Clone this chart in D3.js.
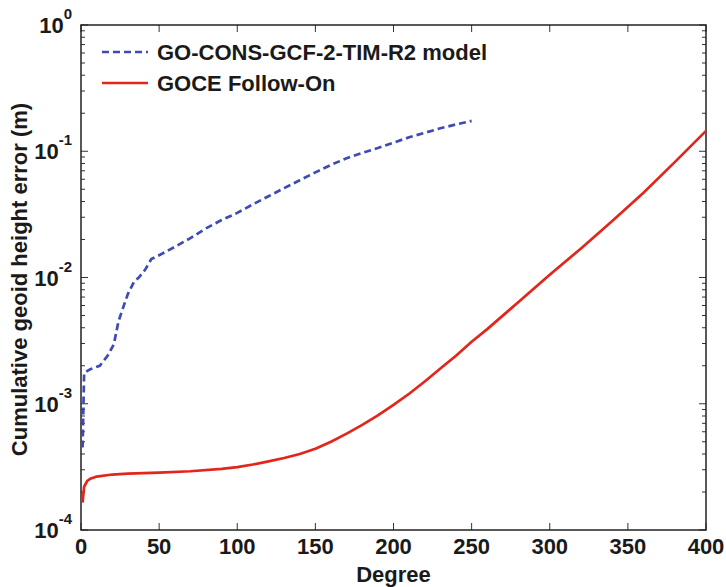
<!DOCTYPE html>
<html>
<head>
<meta charset="utf-8">
<script src="https://cdn.jsdelivr.net/npm/d3@7"></script>
<style>
  body { margin: 0; background: #fff; }
  text { font-family: "Liberation Sans", Arial, sans-serif; font-weight: bold; fill: #1a1a1a; }
</style>
</head>
<body>
<svg id="chart" width="726" height="587"></svg>
<script>
// GO-CONS-GCF-2-TIM-R2 model (dashed blue)
const timDegrees = [1, 2, 6, 12, 17, 21, 24, 27, 30, 34, 37, 41, 45, 50, 59, 70, 80, 90, 100, 110, 120, 130, 140, 150, 160, 170, 180, 190, 200, 210, 220, 230, 240, 250];
const timErrors = [4.5e-4, 1.75e-3, 1.88e-3, 2.0e-3, 2.4e-3, 2.95e-3, 4.5e-3, 5.8e-3, 7.4e-3, 9.3e-3, 1.0e-2, 1.15e-2, 1.4e-2, 1.5e-2, 1.72e-2, 2.05e-2, 2.45e-2, 2.85e-2, 3.25e-2, 3.8e-2, 4.4e-2, 5.1e-2, 5.9e-2, 6.8e-2, 7.8e-2, 8.8e-2, 9.7e-2, 0.106, 0.117, 0.129, 0.14, 0.152, 0.163, 0.174];

// GOCE Follow-On (solid red)
const gfoDegrees = [1, 2, 4, 6, 10, 20, 30, 50, 70, 90, 100, 110, 120, 130, 140, 150, 160, 170, 180, 190, 200, 210, 220, 230, 240, 250, 260, 280, 300, 320, 340, 360, 380, 400];
const gfoErrors = [1.65e-4, 2.2e-4, 2.45e-4, 2.55e-4, 2.65e-4, 2.75e-4, 2.8e-4, 2.85e-4, 2.92e-4, 3.05e-4, 3.15e-4, 3.3e-4, 3.5e-4, 3.72e-4, 4.0e-4, 4.4e-4, 5.0e-4, 5.8e-4, 6.8e-4, 8.1e-4, 9.8e-4, 1.2e-3, 1.5e-3, 1.9e-3, 2.4e-3, 3.1e-3, 3.9e-3, 6.4e-3, 1.05e-2, 1.7e-2, 2.8e-2, 4.7e-2, 8.2e-2, 0.145];

const xTicks = [0, 50, 100, 150, 200, 250, 300, 350, 400];
const yDecades = [-4, -3, -2, -1, 0];
const seriesNames = ["GO-CONS-GCF-2-TIM-R2 model", "GOCE Follow-On"];

const svg = d3.select("#chart");
const margin = { left: 81, top: 25, right: 20, bottom: 57 };
const width = 726 - margin.left - margin.right;
const height = 587 - margin.top - margin.bottom;

const x = d3.scaleLinear().domain([0, 400]).range([0, width]);
const y = d3.scaleLog().domain([1e-4, 1]).range([height, 0]);

const g = svg.append("g").attr("transform", `translate(${margin.left},${margin.top})`);

// minor log ticks
const minorTicks = [];
yDecades.slice(0, -1).forEach(e => {
    for (let k = 2; k <= 9; k++) minorTicks.push(k * Math.pow(10, e));
});

const tickColor = "#333";
// left and right ticks
[0, width].forEach((xp, side) => {
    const dir = side === 0 ? 1 : -1;
    g.selectAll(null).data(yDecades).enter().append("line")
        .attr("x1", xp).attr("x2", xp + dir * 7)
        .attr("y1", d => y(Math.pow(10, d))).attr("y2", d => y(Math.pow(10, d)))
        .attr("stroke", tickColor).attr("stroke-width", 1);
    g.selectAll(null).data(minorTicks).enter().append("line")
        .attr("x1", xp).attr("x2", xp + dir * 4)
        .attr("y1", d => y(d)).attr("y2", d => y(d))
        .attr("stroke", tickColor).attr("stroke-width", 1);
});
// top and bottom ticks
[0, height].forEach((yp, side) => {
    const dir = side === 0 ? 1 : -1;
    g.selectAll(null).data(xTicks).enter().append("line")
        .attr("x1", d => x(d)).attr("x2", d => x(d))
        .attr("y1", yp).attr("y2", yp + dir * 7)
        .attr("stroke", tickColor).attr("stroke-width", 1);
});

// frame
g.append("rect").attr("x", 0).attr("y", 0).attr("width", width).attr("height", height)
    .attr("fill", "none").attr("stroke", "#222").attr("stroke-width", 1.5);

// x tick labels
g.selectAll(null).data(xTicks).enter().append("text")
    .attr("x", d => x(d)).attr("y", height + 24)
    .attr("text-anchor", "middle").attr("font-size", 22)
    .text(d => d);

// y tick labels
const yl = g.selectAll(null).data(yDecades).enter().append("text")
    .attr("x", -9).attr("y", d => y(Math.pow(10, d)) + 8)
    .attr("text-anchor", "end").attr("font-size", 22);
yl.append("tspan").text("10");
yl.append("tspan").attr("dy", -14).attr("font-size", 15).text(d => d);

// axis labels
g.append("text").attr("x", width / 2).attr("y", height + 52)
    .attr("text-anchor", "middle").attr("font-size", 22).text("Degree");
svg.append("text")
    .attr("transform", `translate(27,${margin.top + height / 2 + 2}) rotate(-90)`)
    .attr("text-anchor", "middle").attr("font-size", 22)
    .text("Cumulative geoid height error (m)");

// lines
const line = d3.line().x(d => x(d[0])).y(d => y(d[1]));
g.append("path").datum(d3.zip(gfoDegrees, gfoErrors))
    .attr("d", line).attr("fill", "none")
    .attr("stroke", "#e2261b").attr("stroke-width", 2.7);
g.append("path").datum(d3.zip(timDegrees, timErrors))
    .attr("d", line).attr("fill", "none")
    .attr("stroke", "#3f4bb3").attr("stroke-width", 2.7)
    .attr("stroke-dasharray", "7,4");

// legend
const legend = g.append("g").attr("transform", "translate(21,27)");
const legendStyles = [
    { color: "#3f4bb3", dash: "7,4" },
    { color: "#e2261b", dash: null }
];
seriesNames.forEach((name, i) => {
    const row = legend.append("g").attr("transform", `translate(0,${i * 31})`);
    row.append("line").attr("x1", 0).attr("x2", 46).attr("y1", 0).attr("y2", 0)
        .attr("stroke", legendStyles[i].color).attr("stroke-width", 2.7)
        .attr("stroke-dasharray", legendStyles[i].dash);
    row.append("text").attr("x", 55).attr("y", 8).attr("font-size", 22).text(name);
});
</script>
</body>
</html>
